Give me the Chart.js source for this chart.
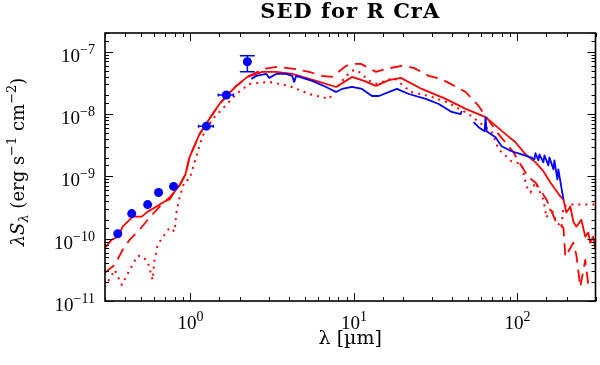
<!DOCTYPE html>
<html>
<head>
<meta charset="utf-8">
<script src="https://cdn.jsdelivr.net/npm/chart.js@4.4.1/dist/chart.umd.min.js"></script>
<style>
   html, body { margin: 0; padding: 0; background: #fff; }
</style>
</head>
<body>
<canvas id="sed" width="600" height="365"></canvas>
<script>
// wavelengths in µm, fluxes (lambda S_lambda) in erg s^-1 cm^-2

// photometry (U B V R I J H K)
const photLam = [0.359, 0.437, 0.547, 0.638, 0.788, 1.252, 1.658, 2.227];
const photFlux = [1.2e-10, 2.53e-10, 3.53e-10, 5.52e-10, 6.9e-10, 6.4e-9, 2.02e-8, 6.9e-8];
const photLamLo = [null, null, null, null, null, 1.12, 1.48, null];
const photLamHi = [null, null, null, null, null, 1.38, 1.83, null];
const photFluxLo = [null, null, null, null, null, null, null, 4.76e-8];
const photFluxHi = [null, null, null, null, null, null, null, 8.6e-8];

// short wavelength spectrum
const swsLam = [2.355, 2.526, 2.907, 3.03, 3.345, 3.85, 4.188, 4.31, 4.43, 5.55, 6.75, 7.767,
   8.45, 9.723, 11.19, 12.88, 14.2, 18.29, 21.65, 27.48, 32.98, 39.6, 44.93, 45.6];
const swsFlux = [3.67e-8, 4.1e-8, 4.41e-8, 3.81e-8, 4.41e-8, 4.41e-8, 4.1e-8, 3.28e-8, 4.1e-8,
   3.41e-8, 2.72e-8, 2.26e-8, 2.53e-8, 2.72e-8, 2.53e-8, 1.95e-8, 1.95e-8, 2.53e-8, 2.1e-8,
   1.75e-8, 1.45e-8, 1.08e-8, 1.0e-8, 1.12e-8];

// long wavelength spectrum
const lwsLam = [53.9, 57.84, 62.9, 63.82, 64.7, 73.4, 79.9, 91.9, 106, 121.7, 127.0, 128.8,
   134.3, 136.2, 144.0, 146.1, 154.5, 156.7, 165.8, 168.1, 175.4, 177.8, 185.5, 191];
const lwsFlux = [7.43e-9, 6.17e-9, 5.32e-9, 8.95e-9, 5.32e-9, 4.26e-9, 3.05e-9, 2.53e-9,
   2.26e-9, 2.0e-9, 1.88e-9, 2.35e-9, 1.81e-9, 2.26e-9, 1.68e-9, 2.18e-9, 1.5e-9, 2.02e-9,
   1.3e-9, 1.81e-9, 8.95e-10, 1.3e-9, 6.65e-10, 4.26e-10];

// model, solid
const totalLam = [0.30, 0.33, 0.36, 0.385, 0.443, 0.503, 0.547, 0.62, 0.694, 0.745, 0.80,
   0.857, 0.932, 0.986, 1.135, 1.252, 1.343, 1.502, 1.658, 1.908, 2.227, 2.748, 3.345, 4.188,
   5.867, 7.767, 9.322, 9.723, 11.51, 13.62, 16.35, 19.35, 25.98, 36.39, 48.19, 63.82, 84.53,
   97.2, 111.9, 128.8, 144.0, 158.9, 170.5, 182.9, 191, 199.0, 210.5, 219.5, 228.9, 245.6,
   259.8, 271.0, 278.7, 290.7, 299];
const totalFlux = [7.16e-11, 9.64e-11, 1.08e-10, 1.56e-10, 2.26e-10, 2.26e-10, 2.72e-10,
   3.28e-10, 3.95e-10, 4.26e-10, 5.73e-10, 7.16e-10, 1.08e-9, 2.02e-9, 4.76e-9, 7.16e-9,
   9.29e-9, 1.45e-8, 1.95e-8, 2.83e-8, 3.95e-8, 4.76e-8, 4.76e-8, 4.41e-8, 3.41e-8, 2.72e-8,
   3.67e-8, 3.95e-8, 3.41e-8, 2.83e-8, 3.5e-8, 3.81e-8, 2.53e-8, 1.75e-8, 1.21e-8, 8.95e-9,
   4.76e-9, 3.53e-9, 2.26e-9, 1.68e-9, 1.21e-9, 8.0e-10, 6.17e-10, 4.76e-10, 4.26e-10,
   2.62e-10, 3.28e-10, 1.88e-10, 1.56e-10, 2.02e-10, 1.08e-10, 1.25e-10, 8.61e-11, 1.08e-10,
   6.65e-11];

// model, dashed
const dashLam = [0.299, 0.344, 0.385, 0.425, 0.489, 0.562, 0.647, 0.745, 0.857, 0.932, 0.986,
   1.135, 1.252, 1.502, 1.908, 2.29, 2.83, 3.39, 4.31, 5.32, 6.38, 7.34, 8.94, 10.0, 11.03,
   13.62, 15.67, 19.62, 23.22, 28.66, 33.93, 42.46, 48.19, 57.84, 63.82, 76.6, 94.5, 104.3,
   116.7, 128.8, 150.3, 172.9, 191, 196.2, 219.5, 228.9, 242.2, 259.8, 271.0];
const dashFlux = [2.83e-11, 3.81e-11, 6.65e-11, 9.64e-11, 1.4e-10, 2.18e-10, 3.28e-10,
   4.58e-10, 7.16e-10, 1.08e-9, 2.02e-9, 4.76e-9, 7.16e-9, 1.45e-8, 2.83e-8, 4.1e-8, 5.32e-8,
   5.73e-8, 5.32e-8, 4.76e-8, 4.1e-8, 3.95e-8, 5.94e-8, 6.4e-8, 6.4e-8, 4.76e-8, 5.32e-8,
   5.94e-8, 5.52e-8, 4.1e-8, 3.67e-8, 2.72e-8, 2.26e-8, 1.35e-8, 9.29e-9, 4.76e-9, 2.44e-9,
   1.56e-9, 9.64e-10, 8.0e-10, 4.26e-10, 1.81e-10, 1.5e-10, 5.13e-11, 8.61e-11, 5.52e-11,
   1.68e-11, 4.58e-11, 1.81e-11];

// model, dotted
const dotLam = [0.299, 0.344, 0.380, 0.425, 0.475, 0.510, 0.547, 0.587, 0.599, 0.629, 0.694,
   0.745, 0.799, 0.822, 0.857, 0.919, 0.986, 1.028, 1.088, 1.184, 1.362, 1.567, 1.908, 2.29,
   3.03, 4.02, 5.32, 7.04, 8.94, 10.0, 11.03, 12.17, 13.81, 17.53, 22.27, 28.66, 36.9, 50.24,
   63.82, 69.4, 76.6, 91.9, 106, 113.4, 120.0, 128.8, 144.0, 150.3, 161.2, 170.5, 185.5, 191,
   204.7, 300];
const dotFlux = [1.68e-11, 3.16e-11, 1.81e-11, 3.16e-11, 5.32e-11, 5.13e-11, 4.26e-11,
   2.18e-11, 4.1e-11, 8.0e-11, 1.16e-10, 1.5e-10, 1.3e-10, 2.72e-10, 4.58e-10, 8.3e-10,
   8.95e-10, 1.3e-9, 2.1e-9, 4.42e-9, 8.3e-9, 1.21e-8, 2.1e-8, 3.05e-8, 3.28e-8, 2.83e-8,
   2.1e-8, 1.75e-8, 4.1e-8, 5.13e-8, 4.58e-8, 3.5e-8, 3.05e-8, 3.81e-8, 2.26e-8, 1.95e-8,
   1.56e-8, 1.0e-8, 6.17e-9, 5.32e-9, 2.72e-9, 1.75e-9, 1.56e-9, 6.9e-10, 5.52e-10, 8.0e-10,
   4.26e-10, 2.18e-10, 3.16e-10, 2.02e-10, 1.5e-10, 3.28e-10, 3.53e-10, 3.53e-10];

const xRange = [0.3, 300];
const yRange = [1e-11, 2e-7];

const chartTitle = "SED for R CrA";
const xTitle = "λ [µm]";

const BLUE = "#0000ff";
const RED = "#ff0000";
const TICK_FONT = '19px "Liberation Serif"';
const EXP_FONT = '14px "Liberation Serif"';

function toPoints(lams, fluxes) {
   return lams.map((lam, i) => ({ x: lam, y: fluxes[i] }));
}

function isDecade(value) {
   const l = Math.log10(value);
   return Math.abs(l - Math.round(l)) < 1e-6;
}

function powerLabel(value) {
   const e = Math.round(Math.log10(value));
   return e < 0 ? "\u2212" + Math.abs(e) : String(e);
}

// draws "10" with a raised exponent; align is 'center' or 'right'
function drawPower(ctx, exponent, x, baseY, align) {
   ctx.font = TICK_FONT;
   const wBase = ctx.measureText("10").width;
   ctx.font = EXP_FONT;
   const wExp = ctx.measureText(exponent).width;
   const total = wBase + wExp;
   const start = align === "right" ? x - total : x - total / 2;
   ctx.textAlign = "left";
   ctx.textBaseline = "alphabetic";
   ctx.font = TICK_FONT;
   ctx.fillText("10", start, baseY);
   ctx.font = EXP_FONT;
   ctx.fillText(exponent, start + wBase, baseY - 8);
}

function drawYTitle(ctx, cx, cy) {
   const big = '18px "DejaVu Serif"';
   const small = '13px "DejaVu Serif"';
   const parts = [
      ["λS", 'italic ' + big, 0],
      ["λ", 'italic ' + small, 4],
      [" (erg s", big, 0],
      ["\u22121", small, -8],
      [" cm", big, 0],
      ["\u22122", small, -8],
      [")", big, 0],
   ];
   let total = 0;
   for (const p of parts) {
      ctx.font = p[1];
      total += ctx.measureText(p[0]).width;
   }
   ctx.save();
   ctx.translate(cx, cy);
   ctx.rotate(-Math.PI / 2);
   ctx.textAlign = "left";
   ctx.textBaseline = "alphabetic";
   let pos = -total / 2;
   for (const p of parts) {
      ctx.font = p[1];
      ctx.fillText(p[0], pos, p[2]);
      pos += ctx.measureText(p[0]).width;
   }
   ctx.restore();
}

const errorBars = {
   id: "errorBars",
   afterDatasetsDraw(chart) {
      const { ctx, scales } = chart;
      ctx.save();
      ctx.strokeStyle = BLUE;
      ctx.lineWidth = 1.5;
      photLam.forEach((lam, i) => {
         const px = scales.x.getPixelForValue(lam);
         const py = scales.y.getPixelForValue(photFlux[i]);
         if (photLamLo[i] !== null) {
            const x0 = scales.x.getPixelForValue(photLamLo[i]);
            const x1 = scales.x.getPixelForValue(photLamHi[i]);
            ctx.beginPath();
            ctx.moveTo(x0, py);
            ctx.lineTo(x1, py);
            ctx.moveTo(x0, py - 1.5);
            ctx.lineTo(x0, py + 1.5);
            ctx.moveTo(x1, py - 1.5);
            ctx.lineTo(x1, py + 1.5);
            ctx.stroke();
         }
         if (photFluxLo[i] !== null) {
            const y0 = scales.y.getPixelForValue(photFluxLo[i]);
            const y1 = scales.y.getPixelForValue(photFluxHi[i]);
            ctx.beginPath();
            ctx.moveTo(px, y0);
            ctx.lineTo(px, y1);
            ctx.moveTo(px - 7.5, y0);
            ctx.lineTo(px + 7.5, y0);
            ctx.moveTo(px - 7.5, y1);
            ctx.lineTo(px + 7.5, y1);
            ctx.stroke();
         }
      });
      ctx.restore();
   },
};

const axesFrame = {
   id: "axesFrame",
   afterDraw(chart) {
      const { ctx, chartArea: a, scales } = chart;
      ctx.save();
      ctx.strokeStyle = "#000";
      ctx.fillStyle = "#000";

      // inward ticks on all four sides
      ctx.lineWidth = 1;
      ctx.beginPath();
      for (const t of scales.x.ticks) {
         const px = Math.round(scales.x.getPixelForValue(t.value)) + 0.5;
         const len = isDecade(t.value) ? 8 : 4;
         ctx.moveTo(px, a.bottom);
         ctx.lineTo(px, a.bottom - len);
         ctx.moveTo(px, a.top);
         ctx.lineTo(px, a.top + len);
      }
      for (const t of scales.y.ticks) {
         const py = Math.round(scales.y.getPixelForValue(t.value)) + 0.5;
         const len = isDecade(t.value) ? 8 : 4;
         ctx.moveTo(a.left, py);
         ctx.lineTo(a.left + len, py);
         ctx.moveTo(a.right, py);
         ctx.lineTo(a.right - len, py);
      }
      ctx.stroke();

      ctx.lineWidth = 1.6;
      ctx.strokeRect(a.left, a.top, a.right - a.left, a.bottom - a.top);

      // tick labels
      for (const t of scales.x.ticks) {
         if (!isDecade(t.value)) continue;
         drawPower(ctx, powerLabel(t.value), scales.x.getPixelForValue(t.value), a.bottom + 28, "center");
      }
      for (const t of scales.y.ticks) {
         if (!isDecade(t.value)) continue;
         drawPower(ctx, powerLabel(t.value), a.left - 10, scales.y.getPixelForValue(t.value) + 10, "right");
      }

      // titles
      ctx.textAlign = "center";
      ctx.textBaseline = "alphabetic";
      ctx.font = 'bold 21px "DejaVu Serif"';
      ctx.letterSpacing = "1px";
      ctx.fillText(chartTitle, (a.left + a.right) / 2, 18);
      ctx.letterSpacing = "0px";
      ctx.font = '19px "DejaVu Serif"';
      ctx.fillText(xTitle, (a.left + a.right) / 2, a.bottom + 43);
      drawYTitle(ctx, 24, 162);
      ctx.restore();
   },
};

const lineSet = (data, color, dash, width, order) => ({
   data: data,
   borderColor: color,
   backgroundColor: color,
   borderWidth: width,
   borderDash: dash,
   borderJoinStyle: "round",
   pointRadius: 0,
   tension: 0,
   fill: false,
   order: order,
});

new Chart(document.getElementById("sed"), {
   type: "line",
   data: {
      datasets: [
         {
            data: toPoints(photLam, photFlux),
            showLine: false,
            pointRadius: 4.5,
            pointBorderWidth: 0,
            pointBackgroundColor: BLUE,
            pointBorderColor: BLUE,
            order: 0,
         },
         lineSet(toPoints(swsLam, swsFlux), BLUE, [], 1.8, 1),
         lineSet(toPoints(lwsLam, lwsFlux), BLUE, [], 1.8, 1),
         lineSet(toPoints(totalLam, totalFlux), RED, [], 1.8, 2),
         lineSet(toPoints(dashLam, dashFlux), RED, [12, 7], 1.8, 3),
         lineSet(toPoints(dotLam, dotFlux), RED, [2, 5], 2, 4),
      ],
   },
   options: {
      responsive: false,
      animation: false,
      layout: { padding: { left: 105, right: 2, top: 33, bottom: 64 } },
      plugins: {
         legend: { display: false },
         tooltip: { enabled: false },
      },
      scales: {
         x: {
            type: "logarithmic",
            min: xRange[0],
            max: xRange[1],
            grid: { display: false },
            border: { display: false },
            ticks: { display: false },
            afterFit(scale) { scale.height = 0; },
         },
         y: {
            type: "logarithmic",
            min: yRange[0],
            max: yRange[1],
            grid: { display: false },
            border: { display: false },
            ticks: { display: false },
            afterFit(scale) { scale.width = 0; },
         },
      },
   },
   plugins: [errorBars, axesFrame],
});
</script>
</body>
</html>
